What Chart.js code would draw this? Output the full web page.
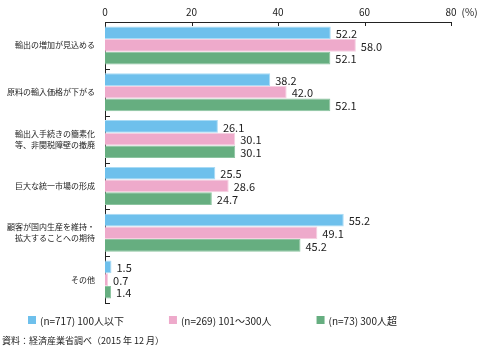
<!DOCTYPE html>
<html>
<head>
<meta charset="utf-8">
<script src="https://cdn.jsdelivr.net/npm/chart.js@4/dist/chart.umd.min.js"></script>
<style>
  html, body { margin: 0; padding: 0; background: #fff; }
  #wrap { width: 485px; height: 347px; }
</style>
</head>
<body>
<div id="wrap"><canvas id="userChart"></canvas></div>
<script>
let categories = [
    '輸出の増加が見込める',
    '原料の輸入価格が下がる',
    ['輸出入手続きの簡素化', '等、非関税障壁の撤廃'],
    '巨大な統一市場の形成',
    ['顧客が国内生産を維持・', '拡大することへの期待'],
    'その他'
];
let seriesNames = ['(n=717) 100人以下', '(n=269) 101～300人', '(n=73) 300人超'];
let small = [52.2, 38.2, 26.1, 25.5, 55.2, 1.5];
let middle = [58.0, 42.0, 30.1, 28.6, 49.1, 0.7];
let large = [52.1, 52.1, 30.1, 24.7, 45.2, 1.4];
let xTicks = [0, 20, 40, 60, 80];
let sourceNote = '資料：経済産業省調べ（2015 年 12 月）';

let jp = '"Noto Sans CJK JP", "Noto Sans", sans-serif';
let ink = '#222';

// value labels at the end of each bar
let valueLabels = {
    id: 'valueLabels',
    afterDatasetsDraw(chart) {
        let ctx = chart.ctx;
        ctx.save();
        ctx.font = '11px ' + jp;
        ctx.fillStyle = ink;
        ctx.textBaseline = 'middle';
        ctx.textAlign = 'left';
        chart.data.datasets.forEach((ds, i) => {
            chart.getDatasetMeta(i).data.forEach((bar, j) => {
                ctx.fillText(ds.data[j].toFixed(1), bar.x + 5, bar.y + 1);
            });
        });
        ctx.restore();
    }
};

// inward tick marks, the (%) unit, legend and source line
let extras = {
    id: 'extras',
    afterDraw(chart) {
        let ctx = chart.ctx;
        let area = chart.chartArea;
        let x = chart.scales.x;
        let y = chart.scales.y;
        ctx.save();
        ctx.strokeStyle = ink;
        ctx.lineWidth = 1;
        ctx.beginPath();
        xTicks.forEach(v => {
            let px = Math.round(x.getPixelForValue(v)) + 0.5;
            ctx.moveTo(px, area.top);
            ctx.lineTo(px, area.top + 4);
        });
        let half = (y.getPixelForValue(1) - y.getPixelForValue(0)) / 2;
        for (let i = 0; i < categories.length; i++) {
            let py = Math.round(y.getPixelForValue(i) + half) + 0.5;
            ctx.moveTo(area.left, py);
            ctx.lineTo(area.left + 5, py);
        }
        ctx.stroke();

        ctx.fillStyle = ink;
        ctx.font = '10px ' + jp;
        ctx.textBaseline = 'middle';
        let last = xTicks[xTicks.length - 1];
        let w80 = ctx.measureText(String(last)).width;
        ctx.fillText('(%)', x.getPixelForValue(last) + w80 / 2 + 5, 12);

        // legend row
        let lx = 28;
        let ly = 320;
        chart.data.datasets.forEach(ds => {
            ctx.fillStyle = ds.backgroundColor;
            ctx.fillRect(lx, ly - 4, 8, 8);
            ctx.fillStyle = ink;
            ctx.textAlign = 'left';
            ctx.fillText(ds.label, lx + 12, ly + 1);
            lx += 12 + ctx.measureText(ds.label).width + 45;
        });

        ctx.font = '9px ' + jp;
        ctx.fillText(sourceNote, 2, 341);
        ctx.restore();
    }
};

let ctx = document.getElementById('userChart').getContext('2d');
let chart = new Chart(ctx, {
    type: 'bar',
    data: {
        labels: categories,
        datasets: [
            {
                label: seriesNames[0],
                backgroundColor: '#6ec0ec',
                borderColor: '#a9dbf5',
                borderWidth: 1,
                data: small
            },
            {
                label: seriesNames[1],
                backgroundColor: '#eeaacb',
                borderColor: '#f6cfe1',
                borderWidth: 1,
                data: middle
            },
            {
                label: seriesNames[2],
                backgroundColor: '#66ae80',
                borderColor: '#8cc4a0',
                borderWidth: 1,
                data: large
            }
        ]
    },
    options: {
        indexAxis: 'y',
        responsive: true,
        maintainAspectRatio: false,
        animation: false,
        layout: { padding: { left: 0, right: 34, top: 0, bottom: 44 } },
        datasets: {
            bar: { categoryPercentage: 0.81, barPercentage: 1.0 }
        },
        scales: {
            x: {
                position: 'top',
                min: 0,
                max: 80,
                afterBuildTicks(scale) {
                    scale.ticks = xTicks.map(v => ({ value: v }));
                },
                afterFit(scale) { scale.height = 22; },
                grid: { display: false, drawTicks: false },
                border: { display: true, color: ink, width: 1 },
                ticks: {
                    color: ink,
                    padding: 4,
                    font: { family: jp, size: 10 }
                }
            },
            y: {
                afterFit(scale) { scale.width = 105; },
                grid: { display: false, drawTicks: false, offset: true },
                border: { display: true, color: ink, width: 1 },
                ticks: {
                    color: ink,
                    padding: 10,
                    font: { family: jp, size: 8, lineHeight: 1.35 }
                }
            }
        },
        plugins: {
            legend: { display: false },
            tooltip: { enabled: false }
        }
    },
    plugins: [valueLabels, extras]
});
</script>
</body>
</html>
